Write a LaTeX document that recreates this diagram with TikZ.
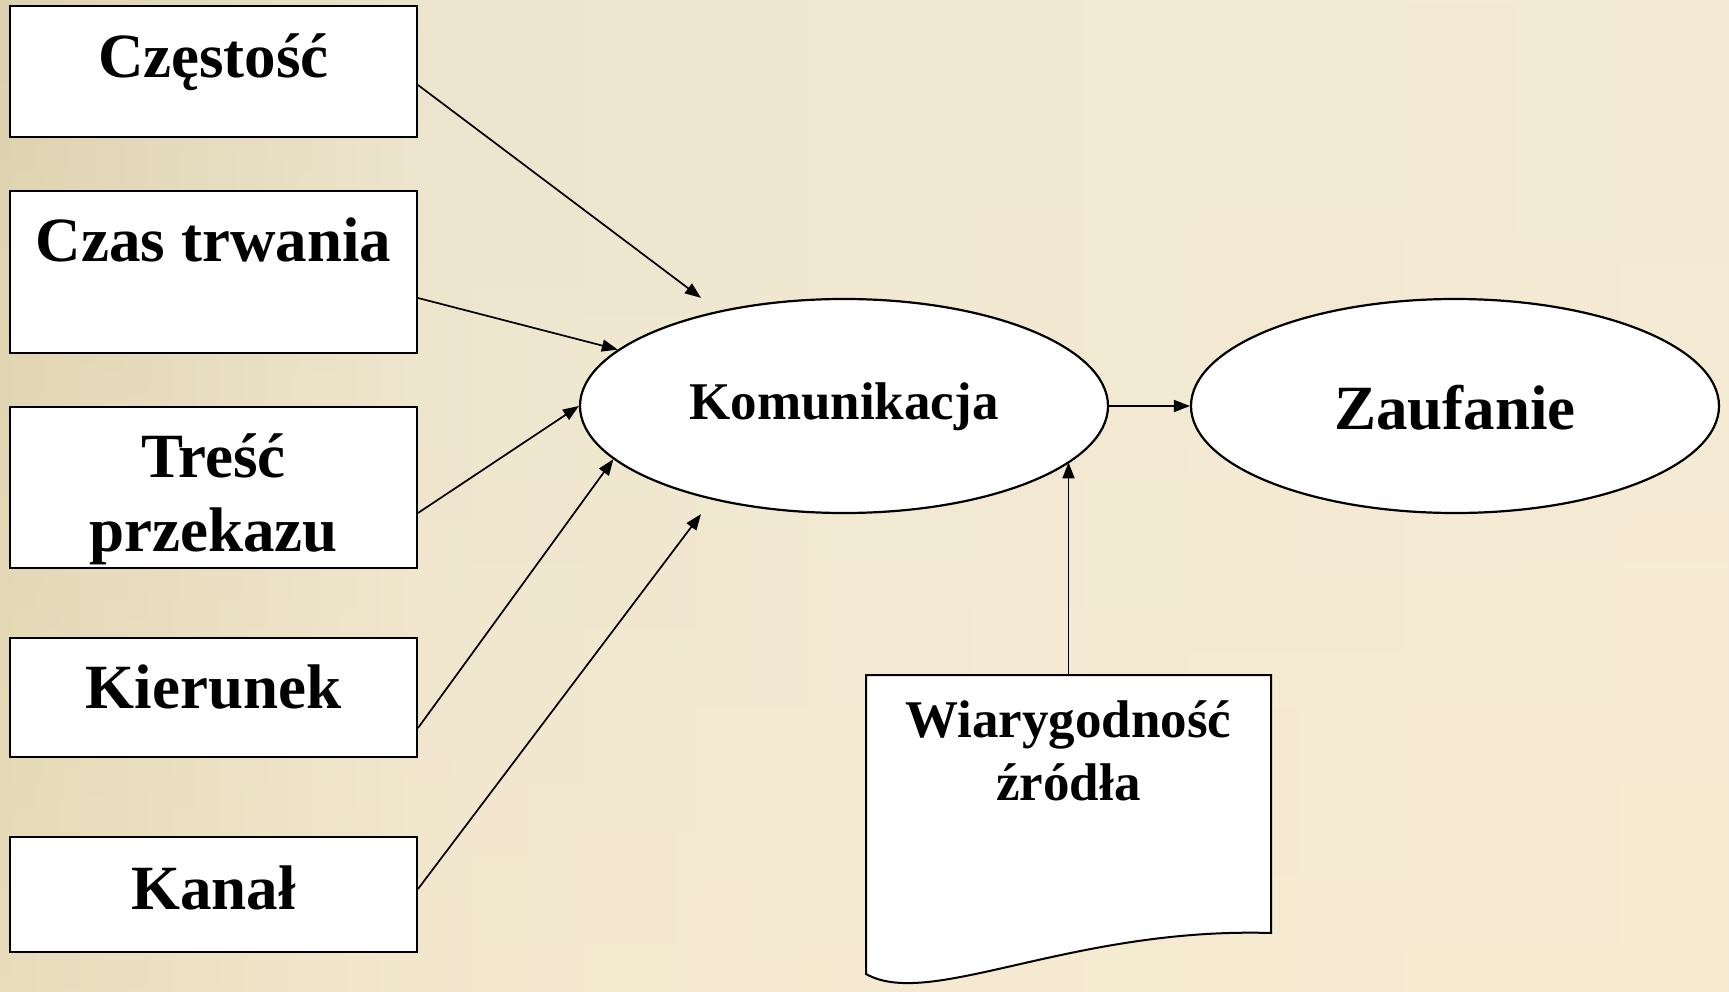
\documentclass[tikz,border=0pt]{standalone}
\usepackage{fontspec}
\setmainfont{Liberation Serif}
\usetikzlibrary{arrows.meta,calc,fadings,shapes.geometric}
\definecolor{bgA}{HTML}{DDD2AF}
\definecolor{bgB}{HTML}{ECE4CD}
\definecolor{bgC}{HTML}{F0E8D3}
\definecolor{bgD}{HTML}{F4EAD4}
\definecolor{bgPeach}{HTML}{FFEFCF}
\pgfdeclarehorizontalshading{bgshade}{100bp}{color(0bp)=(bgA); color(25bp)=(bgA); color(37bp)=(bgB); color(50bp)=(bgC); color(75bp)=(bgD); color(100bp)=(bgD)}
\begin{document}
\begin{tikzpicture}[x=1pt,y=-1pt,
  box/.style={draw=black, line width=2pt, fill=white, minimum width=407pt, inner sep=0pt},
  oval/.style={ellipse, draw=black, line width=2.2pt, fill=white, minimum width=528pt, minimum height=214pt, inner sep=0pt},
  big/.style={font=\fontsize{63}{73}\selectfont\bfseries, inner sep=0pt},
  mid/.style={font=\fontsize{53}{63}\selectfont\bfseries, inner sep=0pt},
  arr/.style={draw=black, line width=1.7pt, -{Triangle[length=16pt,width=12pt]}},
  docline/.style={draw=black, line width=2pt, fill=white}
]
\useasboundingbox (0,0) rectangle (1729,992);
\path[shading=bgshade] (0,0) rectangle (1729,992);
\fill[bgPeach, opacity=0.35, path fading=north] (0,0) rectangle (1729,992);

% left boxes
\node[box, minimum height=131pt] (b1) at (213.5,72) {};
\node[box, minimum height=161pt] (b2) at (213.5,272) {};
\node[box, minimum height=161pt] (b3) at (213.5,487) {};
\node[box, minimum height=119pt] (b4) at (213.5,697) {};
\node[box, minimum height=115pt] (b5) at (213.5,894) {};

\node[big, anchor=base] (t1) at (213.5,78) {Częstość};
\node[big, anchor=base] (t2) at (213.5,262) {Czas trwania};
\node[big, anchor=base] (t3a) at (213.5,477) {Treść};
\node[big, anchor=base] (t3b) at (213.5,551) {przekazu};
\node[big, anchor=base] (t4) at (213.5,708) {Kierunek};
\node[big, anchor=base] (t5) at (213.5,909) {Kanał};

% ellipses
\node[oval] (k) at (844,406) {};
\node[mid, anchor=base] (kt) at (844,419) {Komunikacja};
\node[oval] (z) at (1455,406) {};
\node[big, anchor=base] (zt) at (1455,429) {Zaufanie};

% document shape
\coordinate (dtop) at (1068.5,675);
\draw[docline] (866,675) -- (1271,675) -- (1271,933)
  .. controls (1070,927) and (930,1010) .. (866,974) -- cycle;
\node[mid, anchor=base] (w1) at (1068.5,737) {Wiarygodność};
\node[mid, anchor=base] (w2) at (1068.5,800) {źródła};

% connectors
\draw[arr] ([yshift=-13pt]b1.east) -- ($(k.north)+(-143,0)$);
\draw[arr] ([yshift=-26pt]b2.east) -- (k.166.6);
\draw[arr] ([yshift=-26pt]b3.east) -- (k.west);
\draw[arr] ([yshift=-31pt]b4.east) -- (k.193.4);
\draw[arr] ([yshift=5pt]b5.east) -- ($(k.south)+(-143,0)$);
\draw[arr] (k.east) -- (z.west);
\draw[arr] (dtop) -- (dtop |- k.-14);
\end{tikzpicture}
\end{document}
